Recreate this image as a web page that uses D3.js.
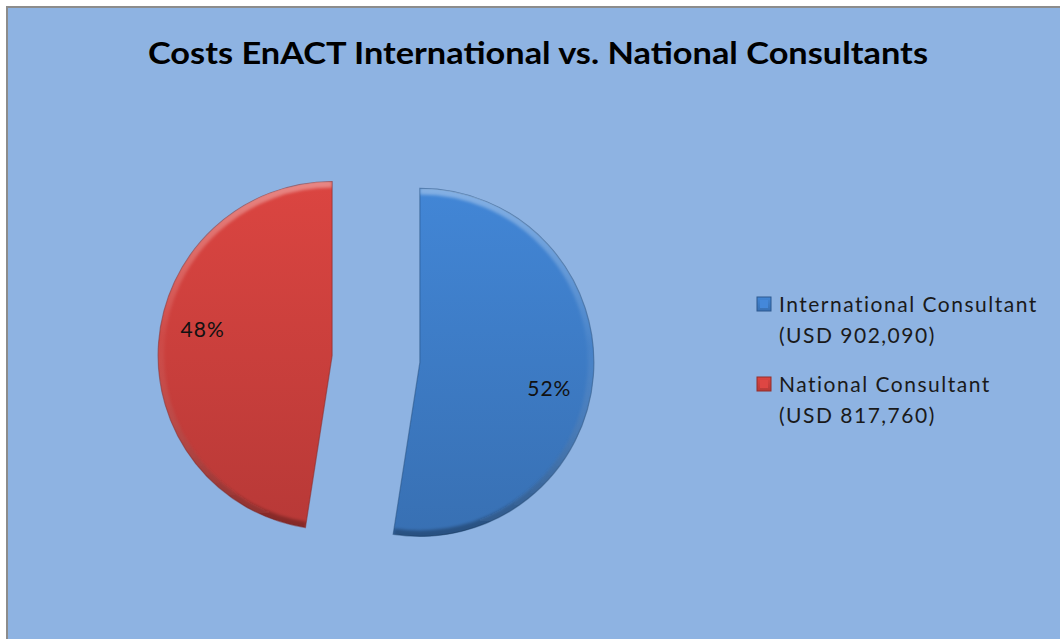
<!DOCTYPE html>
<html>
<head>
<meta charset="utf-8">
<script src="https://cdn.jsdelivr.net/npm/d3@7"></script>
<style>
  body { margin: 0; background: #fff; }
  svg { display: block; }
</style>
</head>
<body>
<div id="chart"></div>
<script>
// chart data
const categories = ["International Consultant", "National Consultant"];
const amounts = [902090, 817760];
const amountLabels = ["(USD 902,090)", "(USD 817,760)"];
const colors = ["#3f7fcb", "#d0413e"];
const title = "Costs EnACT International vs. National Consultants";

const width = 1060, height = 639;
const svg = d3.select('#chart').append('svg')
    .attr('width', width)
    .attr('height', height);

const defs = svg.append('defs');

// chart area background
svg.append('rect')
    .attr('x', 7).attr('y', 7)
    .attr('width', width + 10).attr('height', height + 10)
    .attr('fill', '#8eb3e2')
    .attr('stroke', '#8c8c8c')
    .attr('stroke-width', 2);

svg.append('text')
    .attr('x', 538).attr('y', 64)
    .attr('text-anchor', 'middle')
    .style('font-family', 'Lato, "Open Sans", sans-serif')
    .style('font-weight', 'bold')
    .style('font-size', '31px')
    .attr('textLength', 780)
    .attr('lengthAdjust', 'spacingAndGlyphs')
    .text(title);

// gradients for slices
colors.forEach((c, i) => {
    const g = defs.append('linearGradient')
        .attr('id', 'fill-' + i)
        .attr('x1', 0).attr('y1', 0).attr('x2', 0).attr('y2', 1);
    g.append('stop').attr('offset', '0%').attr('stop-color', d3.color(c).brighter(0.15));
    g.append('stop').attr('offset', '100%').attr('stop-color', d3.color(c).darker(0.35));
});
const bevel = defs.append('linearGradient')
    .attr('id', 'bevel')
    .attr('x1', 0).attr('y1', 0).attr('x2', 0).attr('y2', 1);
bevel.append('stop').attr('offset', '0%').attr('stop-color', '#fff').attr('stop-opacity', 0.35);
bevel.append('stop').attr('offset', '45%').attr('stop-color', '#fff').attr('stop-opacity', 0.05);
bevel.append('stop').attr('offset', '100%').attr('stop-color', '#000').attr('stop-opacity', 0.28);

defs.append('filter').attr('id', 'soft')
    .append('feGaussianBlur').attr('stdDeviation', 1.5);

const radius = 174;
const explode = 44;
const cx = 376, cy = 359;

const pie = d3.pie().sort(null).value(d => d);
const arcs = pie(amounts);
const total = d3.sum(amounts);
const arc = d3.arc().innerRadius(0).outerRadius(radius);
const rimArc = d3.arc().innerRadius(radius).outerRadius(radius);
const labelArc = d3.arc().innerRadius(132).outerRadius(132);

const pieG = svg.append('g').attr('transform', `translate(${cx},${cy})`);

arcs.forEach((a, i) => {
    const mid = (a.startAngle + a.endAngle) / 2;
    const dx = Math.sin(mid) * explode, dy = -Math.cos(mid) * explode;
    const g = pieG.append('g').attr('transform', `translate(${dx},${dy})`);
    const clipId = 'clip-' + i;
    defs.append('clipPath').attr('id', clipId)
        .append('path').attr('d', arc(a));

    g.append('path')
        .attr('d', arc(a))
        .attr('fill', `url(#fill-${i})`)
        .attr('stroke', d3.color(colors[i]).darker(1.2))
        .attr('stroke-opacity', 0.55)
        .attr('stroke-width', 1.2);

    // soft bevel along the rim
    g.append('g').attr('clip-path', `url(#${clipId})`)
        .append('path')
        .attr('d', rimArc(a))
        .attr('fill', 'none')
        .attr('stroke', 'url(#bevel)')
        .attr('stroke-width', 12)
        .attr('filter', 'url(#soft)');

    // percent label, shifted a little clockwise like the original
    const shift = 0.12;
    const la = {startAngle: a.startAngle + shift, endAngle: a.endAngle + shift};
    const [lx, ly] = labelArc.centroid(la);
    g.append('text')
        .attr('x', lx).attr('y', ly)
        .attr('text-anchor', 'middle')
        .attr('dy', '0.35em')
        .style('font-family', 'Lato, "Open Sans", sans-serif')
        .style('font-size', '21px')
        .style('letter-spacing', '1px')
        .attr('fill', '#111')
        .text(d3.format('.0%')(a.value / total));
});

// legend
const legend = svg.append('g').attr('transform', 'translate(757,297)');
const legendSpacing = 80;
categories.forEach((name, i) => {
    const item = legend.append('g').attr('transform', `translate(0,${i * legendSpacing})`);
    item.append('rect')
        .attr('width', 14).attr('height', 14)
        .attr('fill', `url(#fill-${i})`)
        .attr('stroke', d3.color(colors[i]).darker(1))
        .attr('stroke-width', 1);
    item.append('rect')
        .attr('x', 3).attr('y', 3)
        .attr('width', 8).attr('height', 8)
        .attr('fill', d3.color(colors[i]).brighter(0.2));
    const t = item.append('text')
        .attr('x', 22).attr('y', 15)
        .style('font-family', 'Lato, "Open Sans", sans-serif')
        .style('font-size', '21px')
        .style('letter-spacing', '1.5px')
        .attr('fill', '#1a1a1a');
    t.append('tspan').attr('x', 22).text(name);
    t.append('tspan').attr('x', 22).attr('dy', 31).text(amountLabels[i]);
});
</script>
</body>
</html>
